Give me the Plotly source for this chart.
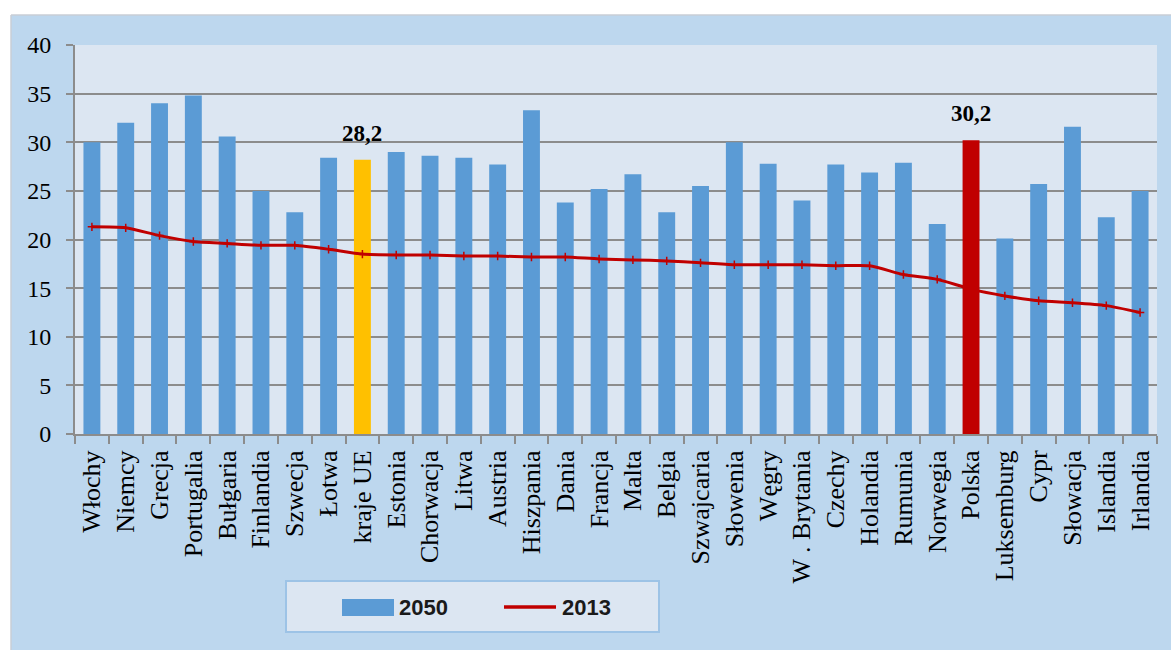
import plotly.graph_objects as go

categories = ['Włochy', 'Niemcy', 'Grecja', 'Portugalia', 'Bułgaria', 'Finlandia', 'Szwecja',
              'Łotwa', 'kraje UE', 'Estonia', 'Chorwacja', 'Litwa', 'Austria', 'Hiszpania',
              'Dania', 'Francja', 'Malta', 'Belgia', 'Szwajcaria', 'Słowenia', 'Węgry',
              'W . Brytania', 'Czechy', 'Holandia', 'Rumunia', 'Norwegia', 'Polska',
              'Luksemburg', 'Cypr', 'Słowacja', 'Islandia', 'Irlandia']

values_2050 = [30.0, 32.0, 34.0, 34.8, 30.6, 25.0, 22.8, 28.4, 28.2, 29.0, 28.6, 28.4, 27.7,
               33.3, 23.8, 25.2, 26.7, 22.8, 25.5, 30.0, 27.8, 24.0, 27.7, 26.9, 27.9, 21.6,
               30.2, 20.1, 25.7, 31.6, 22.3, 25.0]

values_2013 = [21.3, 21.2, 20.4, 19.8, 19.6, 19.4, 19.4, 19.0, 18.5, 18.4, 18.4, 18.3, 18.3,
               18.2, 18.2, 18.0, 17.9, 17.8, 17.6, 17.4, 17.4, 17.4, 17.3, 17.3, 16.4, 15.9,
               14.9, 14.2, 13.7, 13.5, 13.2, 12.5]

highlight_names = ['kraje UE', 'Polska']
highlight_colors = ['#FFC000', '#C00000']
highlight_labels = ['28,2', '30,2']

y_ticks = [0, 5, 10, 15, 20, 25, 30, 35, 40]

BLUE = '#5B9BD5'
RED = '#C00000'

bar_colors = [highlight_colors[highlight_names.index(c)] if c in highlight_names else BLUE
              for c in categories]

fig = go.Figure()
fig.add_trace(go.Bar(
    x=categories, y=values_2050, name='2050',
    marker=dict(color=bar_colors, line=dict(width=0)),
    width=0.5, showlegend=False,
))
fig.add_trace(go.Scatter(
    x=categories, y=values_2013, name='2013', mode='lines+markers',
    line=dict(color=RED, width=3, shape='spline', smoothing=0.6),
    marker=dict(symbol='cross-thin', size=6, line=dict(color=RED, width=1.5)),
    showlegend=False,
))

W, H = 1171, 650
L, R, T, B = 75, 14, 45, 216
pw, ph = W - L - R, H - T - B

def px(x):
    return (x - L) / pw

def py(y):
    return (H - B - y) / ph

annotations = []
for name, label in zip(highlight_names, highlight_labels):
    annotations.append(dict(
        x=name, y=values_2050[categories.index(name)], xref='x', yref='y',
        text=label, showarrow=False, yanchor='bottom', yshift=12,
        font=dict(family='Liberation Serif', size=23, color='black', weight='bold'),
    ))

# custom legend (texts)
legend_font = dict(family='Liberation Sans', size=22, color='#1a1a1a', weight='bold')
annotations.append(dict(x=px(397), y=py(607), xref='paper', yref='paper', text='2050',
                        showarrow=False, xanchor='left', yanchor='middle', font=legend_font))
annotations.append(dict(x=px(560), y=py(607), xref='paper', yref='paper', text='2013',
                        showarrow=False, xanchor='left', yanchor='middle', font=legend_font))

shapes = [
    # white strip above the chart frame
    dict(type='rect', xref='paper', yref='paper', x0=px(-5), x1=px(W + 5), y0=py(15), y1=py(-5),
         fillcolor='white', line=dict(width=0), layer='below'),
    # white strip left of the chart frame
    dict(type='rect', xref='paper', yref='paper', x0=px(-5), x1=px(11), y0=py(H + 5), y1=py(-5),
         fillcolor='white', line=dict(width=0), layer='below'),
    # frame border
    dict(type='line', xref='paper', yref='paper', x0=px(11), x1=px(W + 5), y0=py(15), y1=py(15),
         line=dict(color='#C9CED6', width=1.5), layer='below'),
    dict(type='line', xref='paper', yref='paper', x0=px(11), x1=px(11), y0=py(15), y1=py(H + 5),
         line=dict(color='#C9CED6', width=1.5), layer='below'),
    # legend box
    dict(type='rect', xref='paper', yref='paper', x0=px(286), x1=px(659), y0=py(632), y1=py(581),
         fillcolor='#DCE6F2', line=dict(color='#9DC3E6', width=2), layer='below'),
    # legend symbol 2050
    dict(type='rect', xref='paper', yref='paper', x0=px(342), x1=px(394), y0=py(616), y1=py(599),
         fillcolor=BLUE, line=dict(width=0)),
    # legend symbol 2013
    dict(type='line', xref='paper', yref='paper', x0=px(504), x1=px(556), y0=py(607), y1=py(607),
         line=dict(color=RED, width=3.5)),
]

fig.update_layout(
    width=W, height=H,
    margin=dict(l=L, r=R, t=T, b=B, pad=0),
    paper_bgcolor='#BDD7EE',
    plot_bgcolor='#DCE6F2',
    showlegend=False,
    shapes=shapes,
    annotations=annotations,
    font=dict(family='Liberation Serif', color='black'),
)
fig.update_xaxes(
    type='category', tickangle=-90, tickson='boundaries',
    range=[-0.5, len(categories) - 0.5],
    ticks='outside', ticklen=8, tickcolor='#8C8C8C', tickwidth=1.5,
    showline=True, linecolor='#8C8C8C', linewidth=2,
    showgrid=False, ticklabelstandoff=4,
    tickfont=dict(family='Liberation Serif', size=26, color='black'),
)
fig.update_yaxes(
    range=[0, 40], tickvals=y_ticks,
    ticks='outside', ticklen=7, tickcolor='#8C8C8C', tickwidth=1.5,
    showline=True, linecolor='#8C8C8C', linewidth=2,
    showgrid=True, gridcolor='#8C8C8C', gridwidth=1.5,
    zeroline=False, ticklabelstandoff=10,
    tickfont=dict(family='Liberation Serif', size=24, color='black'),
)

fig.write_html('out.html', config={'displayModeBar': False},
               post_script="document.body.style.margin='0';document.body.style.overflow='hidden';")
